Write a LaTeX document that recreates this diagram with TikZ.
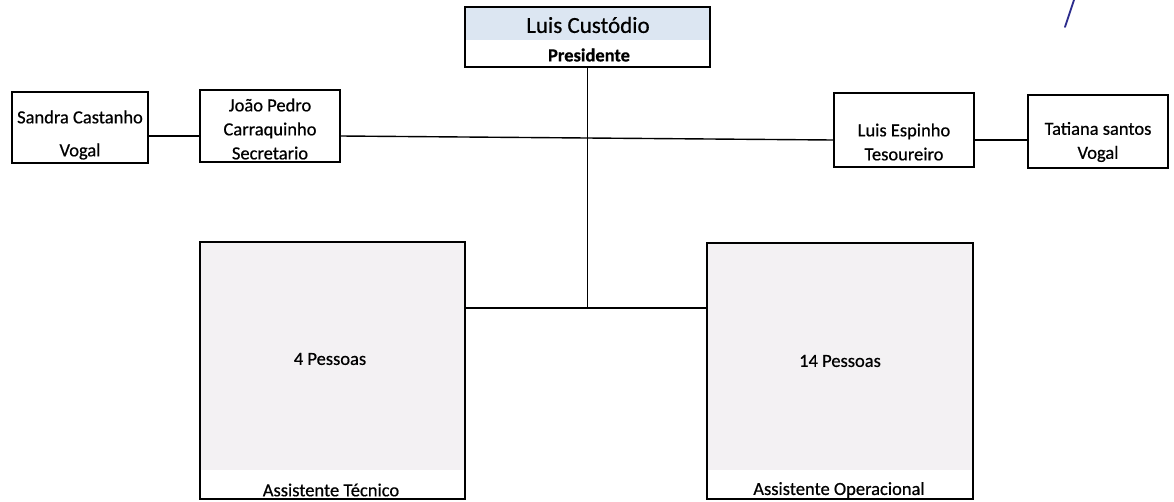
\documentclass[tikz,border=0pt]{standalone}
\usepackage{fontspec}
\setmainfont{Carlito}[FakeBold=0.6]
\usepackage{xcolor}
\usepackage{tikz}

\definecolor{bandblue}{HTML}{DCE6F2}
\definecolor{boxgray}{HTML}{F3F1F3}
\definecolor{penblue}{HTML}{2B2B8C}

\tikzset{
  box/.style={draw, line width=1.8pt, inner sep=0pt},
  lbl/.style={align=center, inner sep=0pt, font=\fontsize{18.5}{24}\selectfont},
  link/.style={line width=1.4pt},
}

\begin{document}
\begin{tikzpicture}[x=1pt, y=-1pt]
    \useasboundingbox (0,0) rectangle (1174,501);

    % presidente
    \fill[bandblue] (466,8) rectangle (709,40);
    \node[box, minimum width=245pt, minimum height=60pt] (pres) at (587.5,37) {};
    \node[lbl, font=\fontsize{23}{26}\selectfont] (presname) at (588,25) {Luis Custódio};
    \node[lbl, font=\fontsize{18.5}{22}\selectfont\bfseries] (presrole) at (589,55) {Presidente};

    % direccao
    \node[box, minimum width=136pt, minimum height=71pt] (sc) at (80,127.5) {};
    \node[box, minimum width=140pt, minimum height=72pt] (jp) at (270,126) {};
    \node[box, minimum width=140pt, minimum height=74pt] (le) at (904,130) {};
    \node[box, minimum width=140pt, minimum height=73pt] (tv) at (1098,131.5) {};
    \node[lbl] (sctext) at (80,135) {Sandra Castanho\\[9pt]Vogal};
    \node[lbl] (jptext) at (270,129) {João Pedro\\Carraquinho\\Secretario};
    \node[lbl] (letext) at (904,142) {Luis Espinho\\Tesoureiro};
    \node[lbl] (tvtext) at (1098,142) {Tatiana santos\\Vogal};

    % equipas
    \fill[boxgray] (200,242) rectangle (465,470);
    \fill[boxgray] (707,243) rectangle (973,470);
    \node[box, minimum width=265pt, minimum height=257pt] (at) at (332.5,370.5) {};
    \node[box, minimum width=266pt, minimum height=256pt] (ao) at (840,371) {};
    \node[lbl] (atnum) at (330,359) {4 Pessoas};
    \node[lbl] (aonum) at (840,361) {14 Pessoas};
    \node[lbl] (atrole) at (331,490) {Assistente Técnico};
    \node[lbl] (aorole) at (839,490) {Assistente Operacional};

    % ligacoes
    \coordinate (rowL) at (0,136);
    \coordinate (rowR) at (0,140);
    \coordinate (rowB) at (0,308);
    \draw[link] (sc.east |- rowL) -- (jp.west |- rowL);
    \draw[link] (jp.east |- rowL) -- (le.west |- rowR);
    \draw[link] (le.east |- rowR) -- (tv.west |- rowR);
    \draw[link] (pres.south) -- (pres.south |- rowB);
    \draw[link] (at.east |- rowB) -- (ao.west |- rowB);

    % rubrica
    \draw[penblue, line width=1.8pt, line cap=round] (1074,0) -- (1065,27);
\end{tikzpicture}
\end{document}
